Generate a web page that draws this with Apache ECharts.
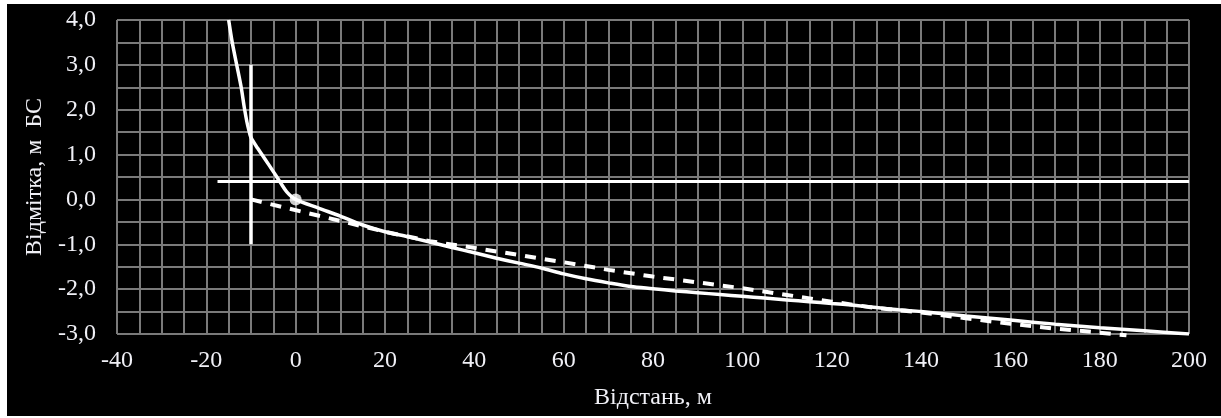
<!DOCTYPE html>
<html>
<head>
<meta charset="utf-8">
<script src="https://cdn.jsdelivr.net/npm/echarts@6/dist/echarts.min.js"></script>
<style>
html,body{margin:0;padding:0;background:#ffffff;width:1221px;height:418px;overflow:hidden;}
#chart{position:absolute;left:7px;top:4px;width:1214px;height:412px;}
</style>
</head>
<body>
<div id="chart"></div>
<script>
// Axis ticks
const xTicks = [-40, -20, 0, 20, 40, 60, 80, 100, 120, 140, 160, 180, 200];
const yTicks = ['-3,0', '-2,0', '-1,0', '0,0', '1,0', '2,0', '3,0', '4,0'];

// Main profile (solid line)
const profileX = [-15, -14.2, -13.2, -12.2, -11.5, -10.9, -10.5, -10, -8.5, -7, -5, -3.5, -2, 0,
  5, 10, 15, 20, 25, 30, 35, 40, 45, 50, 55, 60, 65, 70, 75, 80, 85, 90, 95, 100,
  105, 110, 115, 120, 125, 130, 135, 140, 150, 160, 170, 180, 190, 200];
const profileY = [4.0, 3.5, 3.0, 2.5, 2.05, 1.72, 1.55, 1.38, 1.14, 0.92, 0.62, 0.39, 0.17, 0.0,
  -0.19, -0.37, -0.57, -0.72, -0.83, -0.95, -1.07, -1.19, -1.31, -1.42, -1.53, -1.66, -1.77, -1.86, -1.94, -1.99, -2.04, -2.08, -2.12, -2.16,
  -2.2, -2.24, -2.28, -2.32, -2.36, -2.41, -2.46, -2.5, -2.6, -2.69, -2.78, -2.86, -2.93, -3.0];

// Dashed profile
const dashX = [-10, 15, 20, 30, 40, 50, 60, 70, 80, 90, 100, 110, 120, 130, 140, 150, 160, 170, 180, 186];
const dashY = [0.0, -0.6, -0.72, -0.93, -1.08, -1.24, -1.4, -1.57, -1.72, -1.85, -1.98, -2.13, -2.28, -2.42, -2.52, -2.65, -2.77, -2.88, -2.97, -3.03];

// Vertical marker line
const vLineX = [-10, -10];
const vLineY = [3.0, -1.0];

// Horizontal level line
const hLineX = [-17.5, 200];
const hLineY = [0.4, 0.4];

// Point
const pointX = [0];
const pointY = [0.0];

const zip = (a, b) => a.map((v, i) => [v, b[i]]);

const textColor = '#f0f0f6';
const gridColor = '#7a7a7a';
const font = '"Liberation Serif", "DejaVu Serif", serif';

const chart = echarts.init(document.getElementById('chart'));
chart.setOption({
  backgroundColor: '#000000',
  animation: false,
  grid: { left: 110, top: 16, right: 32, bottom: 82, containLabel: false },
  xAxis: {
    type: 'value', min: -40, max: 200, interval: 20,
    name: 'Відстань, м', nameLocation: 'middle', nameGap: 52,
    nameTextStyle: { color: textColor, fontFamily: font, fontSize: 24 },
    axisLine: { show: true, lineStyle: { color: gridColor, width: 2 } },
    axisTick: { show: false },
    axisLabel: { color: textColor, fontFamily: font, fontSize: 24, margin: 15,
      formatter: v => { const i = xTicks.indexOf(v); return i >= 0 ? String(xTicks[i]) : ''; } },
    splitLine: { show: true, lineStyle: { color: gridColor, width: 2 } },
    minorTick: { show: false, splitNumber: 4 },
    minorSplitLine: { show: true, lineStyle: { color: gridColor, width: 2 } }
  },
  yAxis: {
    type: 'value', min: -3, max: 4, interval: 1,
    name: 'Відмітка, м  БС', nameLocation: 'middle', nameGap: 66, nameRotate: 90,
    nameTextStyle: { color: textColor, fontFamily: font, fontSize: 24 },
    axisLine: { show: true, lineStyle: { color: gridColor, width: 2 } },
    axisTick: { show: false },
    axisLabel: { color: textColor, fontFamily: font, fontSize: 24, margin: 21,
      formatter: v => yTicks[Math.round(v) + 3] },
    splitLine: { show: true, lineStyle: { color: gridColor, width: 2 } },
    minorTick: { show: false, splitNumber: 2 },
    minorSplitLine: { show: true, lineStyle: { color: gridColor, width: 2 } }
  },
  series: [
    { type: 'line', data: zip(hLineX, hLineY), showSymbol: false,
      lineStyle: { color: '#ffffff', width: 3 } },
    { type: 'line', data: zip(vLineX, vLineY), showSymbol: false,
      lineStyle: { color: '#ffffff', width: 3.5 } },
    { type: 'line', data: zip(dashX, dashY), showSymbol: false, clip: false,
      lineStyle: { color: '#ffffff', width: 4, type: [11, 9] } },
    { type: 'line', data: zip(profileX, profileY), showSymbol: false, smooth: 0.3,
      lineStyle: { color: '#ffffff', width: 3.5 } },
    { type: 'scatter', data: zip(pointX, pointY), symbol: 'circle', symbolSize: 12,
      itemStyle: { color: '#ffffff' } }
  ]
});
</script>
</body>
</html>
